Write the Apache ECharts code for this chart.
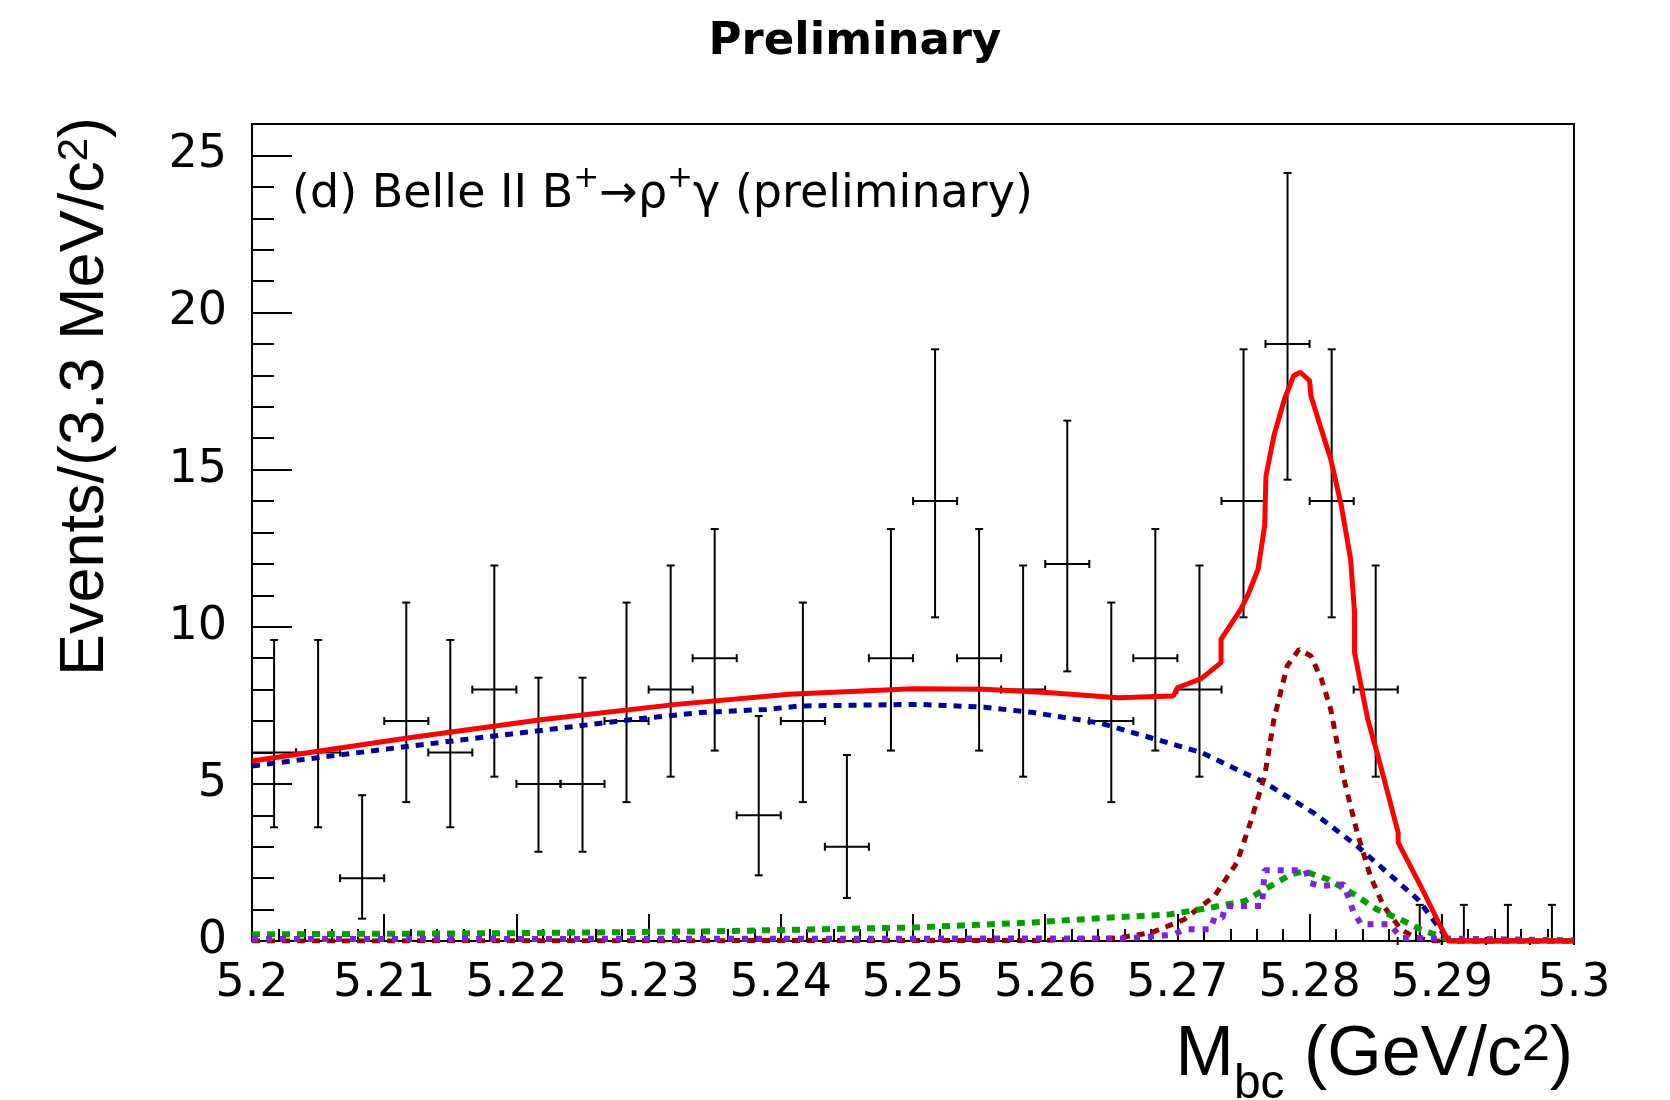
<!DOCTYPE html>
<html>
<head>
<meta charset="utf-8">
<title>Mbc fit</title>
<script src="https://cdn.jsdelivr.net/npm/echarts@6/dist/echarts.min.js"></script>
<style>
  html, body { margin: 0; padding: 0; background: #fff; }
  #plot { width: 1670px; height: 1100px; }
</style>
</head>
<body>
<div id="plot"></div>
<script>
// data points (3.3 MeV bins)
const binCenters = [5.20167, 5.20500, 5.20833, 5.21167, 5.21500, 5.21833, 5.22167, 5.22500, 5.22833, 5.23167,
    5.23500, 5.23833, 5.24167, 5.24500, 5.24833, 5.25167, 5.25500, 5.25833, 5.26167, 5.26500,
    5.26833, 5.27167, 5.27500, 5.27833, 5.28167, 5.28500, 5.28833, 5.29167, 5.29500, 5.29833];
const counts = [6, 6, 2, 7, 6, 8, 5, 5, 7, 8, 9, 4, 7, 3, 9, 14, 9, 8, 12, 7, 9, 8, 14, 19, 14, 8, 0, 0, 0, 0];
const errLow = [3.62, 3.62, 0.71, 4.42, 3.62, 5.23, 2.84, 2.84, 4.42, 5.23, 6.06, 2.09, 4.42, 1.37, 6.06,
    10.30, 6.06, 5.23, 8.58, 4.42, 6.06, 5.23, 10.30, 14.68, 10.30, 5.23, 0, 0, 0, 0];
const errHigh = [9.58, 9.58, 4.64, 10.77, 9.58, 11.95, 8.38, 8.38, 10.77, 11.95, 13.11, 7.16, 10.77, 5.92, 13.11,
    18.83, 13.11, 11.95, 16.56, 10.77, 13.11, 11.95, 18.83, 24.44, 18.83, 11.95, 1.15, 1.15, 1.15, 1.15];
const halfBin = 0.1 / 60;

// fit components
const totalFit = [[5.2, 5.73], [5.2119, 6.47], [5.222, 7.05], [5.2321, 7.53], [5.2406, 7.85], [5.25, 8.03],
    [5.2554, 8.01], [5.2604, 7.9], [5.2655, 7.74], [5.2697, 7.8], [5.27, 8.06], [5.2718, 8.35], [5.2733, 8.86],
    [5.2733, 9.6], [5.2748, 10.56], [5.2753, 10.98], [5.2761, 11.83], [5.2766, 13.21], [5.2767, 14.8],
    [5.2773, 16.08], [5.2781, 17.25], [5.2788, 17.99], [5.2793, 18.1], [5.28, 17.83], [5.2801, 17.35],
    [5.2808, 16.4], [5.2816, 15.33], [5.2824, 13.85], [5.2831, 12.15], [5.2834, 10.45], [5.2834, 9.18],
    [5.2839, 8.11], [5.2844, 7.05], [5.2851, 6.0], [5.2867, 3.45], [5.2867, 3.13], [5.2884, 1.75],
    [5.2899, 0.47], [5.2905, 0], [5.3, 0]];
const background = [[5.2, 5.57], [5.2119, 6.2], [5.2288, 7.05], [5.2339, 7.27], [5.2389, 7.37], [5.2415, 7.48],
    [5.2505, 7.53], [5.2554, 7.44], [5.2591, 7.27], [5.2642, 6.93], [5.2718, 6.0], [5.2766, 5.04],
    [5.2803, 4.08], [5.2836, 3.02], [5.2859, 2.17], [5.2882, 1.32], [5.2899, 0.37], [5.2905, 0], [5.3, 0]];
const signal = [[5.2, 0], [5.26, 0.02], [5.2655, 0.1], [5.268, 0.26], [5.2705, 0.68], [5.2728, 1.43],
    [5.2745, 2.49], [5.2756, 3.87], [5.2766, 5.25], [5.2773, 7.05], [5.2783, 8.75], [5.2792, 9.28],
    [5.2801, 9.07], [5.2809, 8.33], [5.2816, 7.37], [5.2826, 5.14], [5.2836, 3.45], [5.2846, 2.06],
    [5.2856, 1.11], [5.2869, 0.37], [5.288, 0.1], [5.2895, 0], [5.3, 0]];
const greenComp = [[5.2, 0.21], [5.22, 0.25], [5.235, 0.31], [5.25, 0.43], [5.2591, 0.59], [5.265, 0.75],
    [5.2693, 0.84], [5.2725, 1.06], [5.2751, 1.27], [5.2768, 1.69], [5.2786, 2.12], [5.2796, 2.22],
    [5.2814, 1.96], [5.2834, 1.48], [5.2851, 1.0], [5.2869, 0.68], [5.2884, 0.37], [5.2902, 0.1],
    [5.291, 0], [5.3, 0]];
const purpleComp = [[5.2, 0.06], [5.266, 0.08], [5.2697, 0.2], [5.2705, 0.37], [5.2725, 0.37], [5.2728, 0.74],
    [5.2734, 0.74], [5.2736, 1.11], [5.2764, 1.11], [5.2766, 2.25], [5.2797, 2.25], [5.28, 1.85],
    [5.2808, 1.75], [5.2826, 1.8], [5.2833, 0.95], [5.2839, 0.53], [5.2861, 0.53], [5.2869, 0.1], [5.3, 0.02]];

const yMajorTicks = [0, 5, 10, 15, 20, 25];

const font = '"Liberation Sans", Arial, Helvetica, sans-serif';
const wideFont = '"DejaVu Sans", sans-serif';

var points = [];
for (let i = 0; i < binCenters.length; i++) {
    points.push([binCenters[i], counts[i], errLow[i], errHigh[i]]);
}

// ROOT-like error bar with small end caps
function errorBar(params, api) {
    var x = api.value(0), y = api.value(1);
    var c = api.coord([x, y]);
    var lo = api.coord([x, api.value(2)]);
    var hi = api.coord([x, api.value(3)]);
    var l = api.coord([x - halfBin, y]);
    var r = api.coord([x + halfBin, y]);
    var st = {stroke: '#000', lineWidth: 2};
    var kids = [
        {type: 'line', shape: {x1: lo[0], y1: lo[1], x2: hi[0], y2: hi[1]}, style: st},
        {type: 'line', shape: {x1: hi[0] - 4, y1: hi[1], x2: hi[0] + 4, y2: hi[1]}, style: st},
        {type: 'line', shape: {x1: l[0], y1: c[1], x2: r[0], y2: c[1]}, style: st},
        {type: 'line', shape: {x1: l[0], y1: c[1] - 4, x2: l[0], y2: c[1] + 4}, style: st},
        {type: 'line', shape: {x1: r[0], y1: c[1] - 4, x2: r[0], y2: c[1] + 4}, style: st}
    ];
    if (api.value(2) > 0) {
        kids.push({type: 'line', shape: {x1: lo[0] - 4, y1: lo[1], x2: lo[0] + 4, y2: lo[1]}, style: st});
    }
    return {type: 'group', children: kids};
}

function curve(name, data, color, width, dash, z) {
    return {
        name: name,
        type: 'line',
        data: data,
        showSymbol: false,
        symbol: 'none',
        smooth: false,
        z: z,
        lineStyle: {color: color, width: width, type: dash}
    };
}

var myChart = echarts.init(document.getElementById('plot'));
var option = {
    animation: false,
    backgroundColor: '#fff',
    textStyle: {fontFamily: font},
    grid: {left: 252, top: 124, width: 1322, height: 817, show: true, borderColor: '#000', borderWidth: 2},
    xAxis: {
        type: 'value', min: 5.2, max: 5.3, interval: 0.01,
        axisLine: {lineStyle: {color: '#000', width: 2}},
        axisTick: {inside: true, length: 27, lineStyle: {color: '#000', width: 2}},
        minorTick: {show: true, splitNumber: 5, length: 12, lineStyle: {color: '#000', width: 2}},
        splitLine: {show: false},
        axisLabel: {
            fontSize: 46, color: '#000', fontFamily: wideFont, margin: 20,
            formatter: function (v) { return String(+v.toFixed(2)); }
        }
    },
    yAxis: [{
        type: 'value', min: 0, max: 26, position: 'left',
        axisLine: {show: true, lineStyle: {color: '#000', width: 2}},
        axisTick: {inside: true, length: 40, customValues: yMajorTicks, lineStyle: {color: '#000', width: 2}},
        axisLabel: {customValues: yMajorTicks, fontSize: 46, color: '#000', fontFamily: wideFont, margin: 25},
        splitLine: {show: false}
    }, {
        // minor ticks every 1 event
        type: 'value', min: 0, max: 26, interval: 1, position: 'left', offset: 0,
        axisLine: {show: false},
        axisTick: {inside: true, length: 22, lineStyle: {color: '#000', width: 2}},
        axisLabel: {show: false},
        splitLine: {show: false}
    }],
    graphic: [
        {
            type: 'text', x: 855, y: 20, z: 10,
            style: {text: 'Preliminary', font: 'bold 45px ' + wideFont, fill: '#000', align: 'center', verticalAlign: 'top', lineHeight: 45}
        },
        {
            type: 'text', x: 292, y: 163, z: 10,
            style: {
                text: '{m|(d) Belle II B}{s|+}{m|→ρ}{s|+}{m|γ (preliminary)}',
                align: 'left', verticalAlign: 'top',
                rich: {
                    m: {fontSize: 46, fontFamily: wideFont, verticalAlign: 'top', padding: [9, 0, 0, 0], fill: '#000'},
                    s: {fontSize: 31, fontFamily: wideFont, verticalAlign: 'top', fill: '#000'}
                }
            }
        },
        {
            type: 'text', x: 1573, y: 1021, z: 10,
            style: {
                text: '{m|M}{b|bc}{m| (GeV/c}{s|2}{m|)}',
                align: 'right', verticalAlign: 'top',
                rich: {
                    m: {fontSize: 70, fontFamily: font, verticalAlign: 'top', fill: '#000'},
                    b: {fontSize: 48, fontFamily: font, verticalAlign: 'top', padding: [40, 0, 0, 0], fill: '#000'},
                    s: {fontSize: 50, fontFamily: font, verticalAlign: 'top', fill: '#000'}
                }
            }
        },
        {
            type: 'text', x: 54, y: 117, rotation: Math.PI / 2, z: 10,
            style: {
                text: '{m|Events/(3.3 MeV/c}{s|2}{m|)}',
                align: 'right', verticalAlign: 'top',
                rich: {
                    m: {fontSize: 63, fontFamily: font, lineHeight: 72, verticalAlign: 'top', fill: '#000'},
                    s: {fontSize: 42, fontFamily: font, lineHeight: 42, verticalAlign: 'top', fill: '#000'}
                }
            }
        }
    ],
    series: [
        {
            name: 'Data',
            type: 'custom',
            renderItem: errorBar,
            data: points,
            z: 2,
            encode: {x: 0, y: [1, 2, 3]}
        },
        curve('Background', background, '#000099', 5, [8, 7], 3),
        curve('Signal', signal, '#990000', 5, [8, 7], 4),
        curve('Green', greenComp, '#00a000', 6, [8, 7], 5),
        curve('Purple', purpleComp, '#7f22e0', 6, [6, 8], 6),
        curve('Total', totalFit, '#ff0000', 5, 'solid', 7)
    ]
};
myChart.setOption(option);
</script>
</body>
</html>
